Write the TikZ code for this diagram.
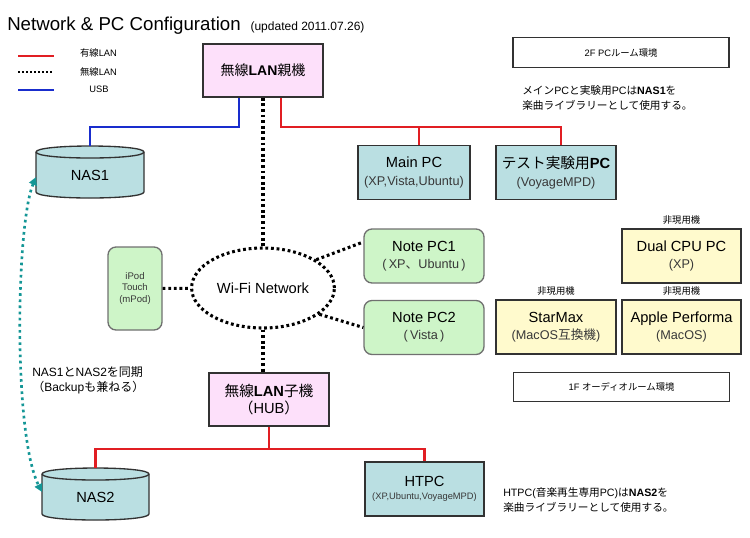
\documentclass[tikz,border=0pt]{standalone}
\usepackage{fontspec}
\setmainfont{Liberation Sans}
\newfontfamily\cjk{Noto Sans CJK JP}
\usetikzlibrary{positioning, shapes.geometric, arrows.meta}
\definecolor{wiredred}{RGB}{225,30,35}
\definecolor{usbblue}{RGB}{25,45,205}
\definecolor{syncteal}{RGB}{20,150,150}
\definecolor{basepink}{RGB}{253,224,250}
\definecolor{pcteal}{RGB}{186,223,226}
\definecolor{notegreen}{RGB}{206,245,200}
\definecolor{oldyellow}{RGB}{255,250,205}
\definecolor{edgegray}{RGB}{50,50,50}
\newcommand{\jp}[1]{{\cjk #1}}
\newcommand{\subline}[1]{{\fontsize{9.5}{13}\selectfont\color{black!78}#1}}
\tikzset{
	MyPx/.style={x=0.75pt, y=-0.75pt},
	box/.style={draw=edgegray, line width=1pt, align=center, inner sep=0pt, font=\fontsize{11}{13}\selectfont},
	basebox/.style={box, fill=basepink, line width=1.3pt, minimum width=90pt, minimum height=39.75pt},
	pcbox/.style={box, fill=pcteal, line width=1.3pt, minimum height=40.5pt},
	notebox/.style={box, fill=notegreen, draw=edgegray!70, rounded corners=6pt, minimum width=90pt, minimum height=40.5pt},
	oldbox/.style={box, fill=oldyellow, minimum width=89.25pt, minimum height=40.5pt},
	roombox/.style={draw=edgegray, line width=0.8pt, minimum width=162pt, minimum height=22pt, font=\fontsize{7}{8}\selectfont},
	drum/.style={draw=edgegray, line width=1pt, fill=pcteal},
	wired/.style={draw=wiredred, line width=2pt},
	usb/.style={draw=usbblue, line width=2pt},
	wifi/.style={draw=black, line width=2.3pt, dash pattern=on 2.1pt off 2.1pt},
	sync/.style={draw=syncteal, line width=2pt, dash pattern=on 2pt off 2.6pt, >={Triangle[length=6pt, width=6pt]}, <->},
	note/.style={align=left, anchor=west, font=\fontsize{8}{11.25}\selectfont, inner sep=0pt},
	tag/.style={font=\fontsize{7}{8}\selectfont, inner sep=0pt}
}
\begin{document}
\begin{tikzpicture}[MyPx]
	\useasboundingbox (0,0) rectangle (750,537);

	% Title
	\node[anchor=base west, inner sep=0pt, font=\fontsize{14}{16}\selectfont] (Title) at (7,30.5) {Network \& PC Configuration};
	\node[anchor=base west, inner sep=0pt, font=\fontsize{9}{10}\selectfont] (Upd) at ([xshift=7pt]Title.base east) {(updated 2011.07.26)};

	% Legend
	\draw[wired] (18,56) -- (54,56);
	\draw[wifi, line width=1.5pt, dash pattern=on 1.5pt off 1.5pt] (18,72) -- (54,72);
	\draw[usb] (18,90) -- (54,90);
	\node[tag] (KeyWired) at (98.5,53) {\jp{有線}LAN};
	\node[tag] (KeyAir) at (98.5,72) {\jp{無線}LAN};
	\node[tag] (KeyUsb) at (99,89) {USB};

	% Access points
	\node[basebox, font=\fontsize{10.5}{13}\selectfont] (Base) at (263,70.5) {\jp{無線}\textbf{LAN}\jp{親機}};
	\node[basebox] (Hub) at (269,399.5) {\jp{無線}\textbf{LAN}\jp{子機}\\\jp{（}HUB\jp{）}};
	\node[wifi, ellipse, minimum width=99pt, minimum height=60pt, font=\fontsize{11}{13}\selectfont] (Wifi) at (263,288) {Wi-Fi Network};

	% Wired PCs
	\node[pcbox, minimum width=84pt] (MainPC) at (414,172.5) {Main PC\\\subline{(XP,Vista,Ubuntu)}};
	\node[pcbox, minimum width=90pt] (TestPC) at (556,172.5) {\jp{テスト実験用}\textbf{PC}\\\subline{(VoyageMPD)}};
	\node[pcbox, minimum width=89.25pt, font=\fontsize{11}{10}\selectfont] (Htpc) at (424.5,489) {HTPC\\{\fontsize{7}{10}\selectfont\color{black!78}(XP,Ubuntu,VoyageMPD)}};

	% Wireless devices
	\node[notebox] (NoteA) at (424,256) {Note PC1\\\subline{(\,XP\jp{、}Ubuntu\,)}};
	\node[notebox] (NoteB) at (424,327.5) {Note PC2\\\subline{(\,Vista\,)}};
	\node[notebox, minimum width=40.5pt, minimum height=62.25pt, font=\fontsize{7.2}{8.6}\selectfont, text=black!78] (Ipod) at (135,288.5) {iPod\\Touch\\(mPod)};

	% Unused machines
	\node[oldbox] (Dual) at (681.5,256) {Dual CPU PC\\\subline{(XP)}};
	\node[oldbox, minimum width=90pt] (Star) at (556,327) {StarMax\\\subline{(MacOS\jp{互換機})}};
	\node[oldbox] (Perf) at (681.5,327) {Apple Performa\\\subline{(MacOS)}};
	\foreach \m in {Dual,Star,Perf}
		\node[tag, above=3pt of \m] (tag\m) {\jp{非現用機}};

	% Rooms and notes
	\node[roombox] (RoomTwo) at (621,52.5) {2F PC\jp{ルーム環境}};
	\node[roombox] (RoomOne) at (621.5,387) {1F \jp{オーディオルーム環境}};
	\node[note] (NoteTop) at (522,97.5) {\jp{メイン}PC\jp{と実験用}PC\jp{は}\textbf{NAS1}\jp{を}\\\jp{楽曲ライブラリーとして使用する。}};
	\node[note] (NoteBot) at (503,499.5) {HTPC(\jp{音楽再生専用}PC)\jp{は}\textbf{NAS2}\jp{を}\\\jp{楽曲ライブラリーとして使用する。}};
	\node[note, font=\fontsize{9}{11.25}\selectfont] (SyncNote) at (32,380.5) {NAS1\jp{と}NAS2\jp{を同期}\\\jp{（}Backup\jp{も兼ねる）}};

	% NAS drums
	\foreach \c/\rx/\t/\b/\n/\lab in {90/54/152/192/NasA/NAS1, 95.5/53.5/474/514/NasB/NAS2} {
		\draw[drum] (\c-\rx,\t) -- (\c-\rx,\b) .. controls (\c-\rx,\b+8) and (\c+\rx,\b+8) .. (\c+\rx,\b)
			-- (\c+\rx,\t) .. controls (\c+\rx,\t-8) and (\c-\rx,\t-8) .. (\c-\rx,\t) -- cycle;
		\draw[drum] (\c-\rx,\t) .. controls (\c-\rx,\t+8) and (\c+\rx,\t+8) .. (\c+\rx,\t);
		\node[font=\fontsize{11}{13}\selectfont] (\n) at (\c,{(\t+\b)/2+3}) {\lab};
		\coordinate (top\n) at (\c,\t-6);
	}

	% USB and wired links
	\draw[usb] (Base.south -| 239,0) -- (239,127) -| (topNasA);
	\draw[wired] (Base.south -| 281,0) -- (281,127) -| (TestPC.north -| 561,0);
	\draw[wired] (419,127) -- (MainPC.north -| 419,0);
	\draw[wired] (Hub.south) -- (269,449) -| (topNasB);
	\draw[wired] (269,449) -| (Htpc.north);

	% Wireless links
	\draw[wifi] (Base) -- (Wifi);
	\draw[wifi] (Wifi.south) -- (Hub.north -| Wifi.south);
	\draw[wifi] (Ipod) -- (Wifi);
	\draw[wifi] (Wifi.28) -- (NoteA.167);
	\draw[wifi] (Wifi.-25) -- (NoteB.west);

	% Sync between the NAS
	\coordinate (syncA) at (36,177);
	\coordinate (syncB) at (42,492);
	\draw[sync] (syncA) .. controls (16,225) and (13,435) .. (syncB);
\end{tikzpicture}
\end{document}
